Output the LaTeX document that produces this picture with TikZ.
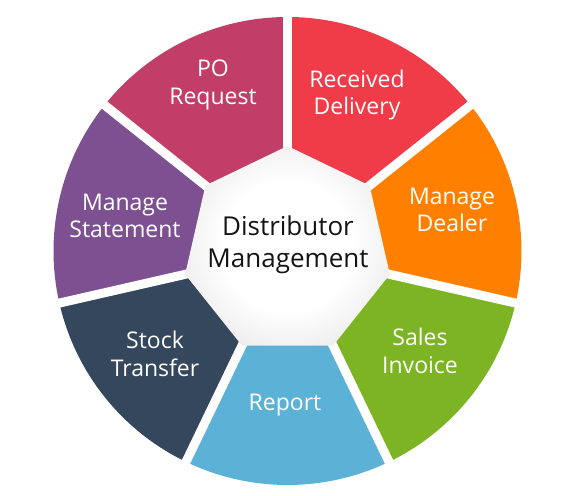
\documentclass[tikz,border=0pt]{standalone}
\usepackage{fontspec}
\setmainfont{Open Sans}
\definecolor{cPO}{RGB}{193,62,105}
\definecolor{cRD}{RGB}{240,60,72}
\definecolor{cMD}{RGB}{255,128,0}
\definecolor{cSI}{RGB}{125,180,35}
\definecolor{cRP}{RGB}{92,178,214}
\definecolor{cST}{RGB}{52,71,92}
\definecolor{cMS}{RGB}{125,80,145}
\definecolor{hgray}{RGB}{200,200,200}
\definecolor{ctxt}{RGB}{20,20,20}
\pgfdeclareradialshading{heptshade}{\pgfpoint{0bp}{0bp}}{color(0bp)=(white); color(16bp)=(white); color(52bp)=(hgray); color(100bp)=(hgray)}
\tikzset{
  seglabel/.style={text=white, align=center, font=\fontsize{23}{27.5}\selectfont},
  hublabel/.style={text=ctxt, align=center, font=\fontsize{26}{32}\selectfont},
  gapline/.style={white, line width=9pt}
}
\begin{document}
\begin{tikzpicture}[x=1pt,y=1pt]
\useasboundingbox (0,0) rectangle (588,495);
\coordinate (C) at (287.5,244);
\def\Ro{234}
\def\Rh{105}
% coloured sectors
\foreach \a/\b/\c in {90/141.43/cPO, 38.57/90/cRD, -12.86/38.57/cMD, -64.29/-12.86/cSI, -115.71/-64.29/cRP, -167.14/-115.71/cST, 141.43/192.86/cMS}
  \fill[\c] (C) -- ++(\a:\Ro) arc[start angle=\a, end angle=\b, radius=\Ro] -- cycle;
% white gaps
\foreach \a in {90,38.57,-12.86,-64.29,-115.71,-167.14,141.43}
  \draw[gapline] (C) -- ++(\a:250);
% central heptagon
\shade[shading=heptshade] ([shift={(90:\Rh)}]C) -- ([shift={(38.57:\Rh)}]C) -- ([shift={(-12.86:\Rh)}]C) -- ([shift={(-64.29:\Rh)}]C) -- ([shift={(-115.71:\Rh)}]C) -- ([shift={(-167.14:\Rh)}]C) -- ([shift={(141.43:\Rh)}]C) -- cycle;
% labels
\node[hublabel] (hub) at (288,250) {Distributor\\Management};
\node[seglabel] (po) at (213,410) {PO\\Request};
\node[seglabel] (rd) at (357,400) {Received\\Delivery};
\node[seglabel] (md) at (452,285) {Manage\\Dealer};
\node[seglabel] (si) at (420,144) {Sales\\Invoice};
\node[seglabel] (rp) at (285,90) {Report};
\node[seglabel] (st) at (155,141) {Stock\\Transfer};
\node[seglabel] (ms) at (125,279) {Manage\\Statement};
\end{tikzpicture}
\end{document}
